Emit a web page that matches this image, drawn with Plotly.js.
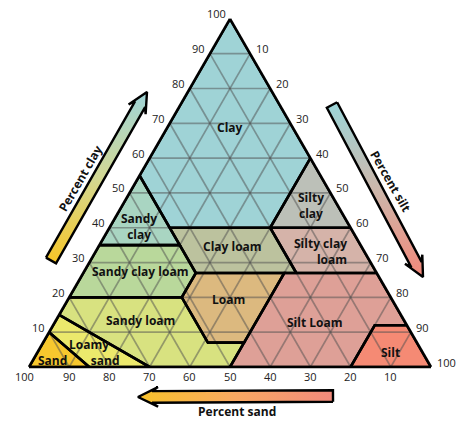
<!DOCTYPE html>
<html><head><meta charset="utf-8">
<script src="https://cdn.plot.ly/plotly-3.0.1.min.js"></script>
<style>html,body{margin:0;padding:0;background:#fff}#chart{width:468px;height:424px}</style>
</head><body><div id="chart"></div>
<script>
// Soil texture classes: vertices as [clay, sand, silt] (%)
const CLAY            = [[40,45,15],[40,20,40],[60,0,40],[100,0,0],[55,45,0]];
const SANDY_CLAY      = [[35,65,0],[35,45,20],[55,45,0]];
const SILTY_CLAY      = [[40,20,40],[40,0,60],[60,0,40]];
const CLAY_LOAM       = [[27,45,28],[27,20,53],[40,20,40],[40,45,15]];
const SILTY_CLAY_LOAM = [[27,20,53],[27,0,73],[40,0,60],[40,20,40]];
const SANDY_CLAY_LOAM = [[20,80,0],[20,52,28],[27,45,28],[35,45,20],[35,65,0]];
const LOAM            = [[7,52,41],[7,43,50],[27,23,50],[27,45,28],[20,52,28]];
const SILT_LOAM       = [[0,50,50],[0,20,80],[12,8,80],[12,0,88],[27,0,73],[27,23,50],[7,43,50]];
const SANDY_LOAM      = [[20,80,0],[15,85,0],[0,70,30],[0,50,50],[7,43,50],[7,52,41],[20,52,28]];
const LOAMY_SAND      = [[10,90,0],[15,85,0],[0,70,30],[0,85,15]];
const SAND            = [[0,100,0],[10,90,0],[0,85,15]];
const SILT            = [[0,20,80],[0,0,100],[12,0,88],[12,8,80]];

const CLASS_NAMES = ['Clay','Sandy clay','Silty clay','Clay loam','Silty clay loam','Sandy clay loam',
                     'Loam','Silt Loam','Sandy loam','Loamy sand','Sand','Silt'];
const TICK_VALUES = [10,20,30,40,50,60,70,80,90,100];
const TICK_LABELS = ['10','20','30','40','50','60','70','80','90','100'];
const GRID_VALUES = [10,20,30,40,50,60,70,80,90];
const AXIS_TITLES = ['Percent clay','Percent silt','Percent sand'];

const REGIONS = [CLAY,SANDY_CLAY,SILTY_CLAY,CLAY_LOAM,SILTY_CLAY_LOAM,SANDY_CLAY_LOAM,
                 LOAM,SILT_LOAM,SANDY_LOAM,LOAMY_SAND,SAND,SILT];
const FILLS = ['#9fd3d6','#a9d5c2','#bcc0b8','#bcc29e','#d5b3a9','#b9d89b',
               '#dcb97f','#dea097','#d8e280','#ece96c','#f7c82e','#f58a74'];

// triangle placement (pixels)
const X0 = 29, X1 = 431, YB = 367, SIDE = X1 - X0, H = SIDE * Math.sqrt(3) / 2;
function px(clay, sand, silt){ return [X0 + SIDE * (silt + clay / 2) / 100, YB - H * clay / 100]; }

const traces = [];
function closed(poly, k){ const v = poly.map(p=>p[k]); v.push(poly[0][k]); return v; }
REGIONS.forEach((poly,i)=>{
  traces.push({type:'scatterternary', mode:'lines', name:CLASS_NAMES[i],
    a:closed(poly,0), b:closed(poly,1), c:closed(poly,2),
    fill:'toself', fillcolor:FILLS[i], line:{width:0, color:FILLS[i]}, hoverinfo:'name'});
});
// grid lines
const ga=[],gb=[],gc=[];
GRID_VALUES.forEach(v=>{
  ga.push(v,v,null); gb.push(100-v,0,null); gc.push(0,100-v,null);
  ga.push(0,100-v,null); gb.push(v,v,null); gc.push(100-v,0,null);
  ga.push(0,100-v,null); gb.push(100-v,0,null); gc.push(v,v,null);
});
traces.push({type:'scatterternary', mode:'lines', a:ga, b:gb, c:gc,
  line:{color:'rgba(80,80,80,0.5)', width:1.7}, hoverinfo:'skip', connectgaps:false});
REGIONS.forEach((poly,i)=>{
  traces.push({type:'scatterternary', mode:'lines', name:CLASS_NAMES[i],
    a:closed(poly,0), b:closed(poly,1), c:closed(poly,2),
    line:{width:2.6, color:'#000'}, hoverinfo:'skip'});
});

// arrows (decoration, pixel coordinates on a hidden overlay axis)
function arrow(tail, tip, w, hw, notch, barb){
  const dx=tip[0]-tail[0], dy=tip[1]-tail[1], L=Math.hypot(dx,dy);
  const u=[dx/L,dy/L], v=[-u[1],u[0]];
  const pts=[[0,-w],[L-notch,-w],[L-notch-barb,-hw],[L,0],[L-notch-barb,hw],[L-notch,w],[0,w],[0,-w]];
  return {x:pts.map(p=>tail[0]+u[0]*p[0]+v[0]*p[1]), y:pts.map(p=>tail[1]+u[1]*p[0]+v[1]*p[1])};
}
const arrows = [
  {tail:[51,260.5], tip:[147,92], type:'vertical', start:92, stop:260,
   cs:[[0,'#9fd4d8'],[0.5,'#d2d895'],[1,'#f6c72a']]},
  {tail:[332,105], tip:[423,277], type:'vertical', start:105, stop:277,
   cs:[[0,'#9dd5d8'],[0.5,'#cdb6aa'],[1,'#f3887a']]},
  {tail:[333,396], tip:[138,397], type:'horizontal', start:138, stop:333,
   cs:[[0,'#f7c22a'],[0.5,'#f9a862'],[1,'#f28a7c']]}
];
arrows.forEach(ar=>{
  const p = arrow(ar.tail, ar.tip, 5.8, 9.8, 14, 6);
  traces.push({type:'scatter', mode:'lines', x:p.x, y:p.y, xaxis:'x', yaxis:'y',
    fill:'toself', fillgradient:{type:ar.type, start:ar.start, stop:ar.stop, colorscale:ar.cs},
    line:{color:'#000', width:2.4}, hoverinfo:'skip', showlegend:false});
});

const lf = {family:'Open Sans, sans-serif', size:12, color:'#111', weight:700};
const tf = {family:'Open Sans, sans-serif', size:11, color:'#222'};
function lab(t,x,y,extra){
  return Object.assign({text:t, x:x, y:y, xref:'x', yref:'y', showarrow:false,
    font:Object.assign({}, lf), xanchor:'center', yanchor:'middle', borderpad:0}, extra||{});
}
const NB = '\u00a0';
const annotations = [
  lab(CLASS_NAMES[0],230,127),
  lab('Silty<br>clay',311,205),
  lab('Sandy<br>clay',139,226),
  lab(CLASS_NAMES[3],232,246),
  lab('Silty clay<br>loam',348,251,{xanchor:'right', align:'right'}),
  lab(CLASS_NAMES[5],140,271),
  lab(CLASS_NAMES[6],228,299),
  lab(CLASS_NAMES[8],140,320),
  lab(CLASS_NAMES[7],315,322),
  lab('Loamy<br>' + NB.repeat(7) + 'sand',68,352.5,{xanchor:'left', align:'left'}),
  lab(CLASS_NAMES[10],52,360),
  lab(CLASS_NAMES[11],390,352),
  lab(AXIS_TITLES[0],80,178,{textangle:-60}),
  lab(AXIS_TITLES[1],391,181,{textangle:60}),
  lab(AXIS_TITLES[2],237,411)
];
// tick labels placed next to the triangle edges
TICK_VALUES.forEach((v,i)=>{
  const L = px(v, 100-v, 0);        // left edge: clay
  annotations.push({text:TICK_LABELS[i], x:L[0]-3.5, y:L[1]-5, xref:'x', yref:'y', showarrow:false,
    xanchor:'right', yanchor:'middle', font:tf, borderpad:0});
  const R = px(100-v, 0, v);        // right edge: silt
  annotations.push({text:TICK_LABELS[i], x:R[0]+4.5, y:R[1]-5, xref:'x', yref:'y', showarrow:false,
    xanchor:'left', yanchor:'middle', font:tf, borderpad:0});
  const B = px(0, v, 100-v);        // bottom edge: sand
  annotations.push({text:TICK_LABELS[i], x:B[0] - (v===100?5:0), y:YB+9.5, xref:'x', yref:'y', showarrow:false,
    xanchor:'center', yanchor:'middle', font:tf, borderpad:0});
});

const axisCommon = {min:0, showticklabels:false, showgrid:false, ticks:'', showline:true,
  linecolor:'#000', linewidth:2.6, title:{text:''}};

const layout = {
  width:468, height:424, margin:{l:0,r:0,t:0,b:0}, showlegend:false,
  paper_bgcolor:'#fff', plot_bgcolor:'rgba(0,0,0,0)',
  xaxis:{domain:[0,1], range:[0,468], visible:false, fixedrange:true},
  yaxis:{domain:[0,1], range:[424,0], visible:false, fixedrange:true},
  ternary:{sum:100, bgcolor:'#fff',
    domain:{x:[X0/468, X1/468], y:[(424-YB)/424, (424-YB+H)/424]},
    aaxis:Object.assign({}, axisCommon), baxis:Object.assign({}, axisCommon), caxis:Object.assign({}, axisCommon)},
  annotations:annotations
};
Plotly.newPlot('chart', traces, layout, {displayModeBar:false, staticPlot:true});
</script></body></html>
